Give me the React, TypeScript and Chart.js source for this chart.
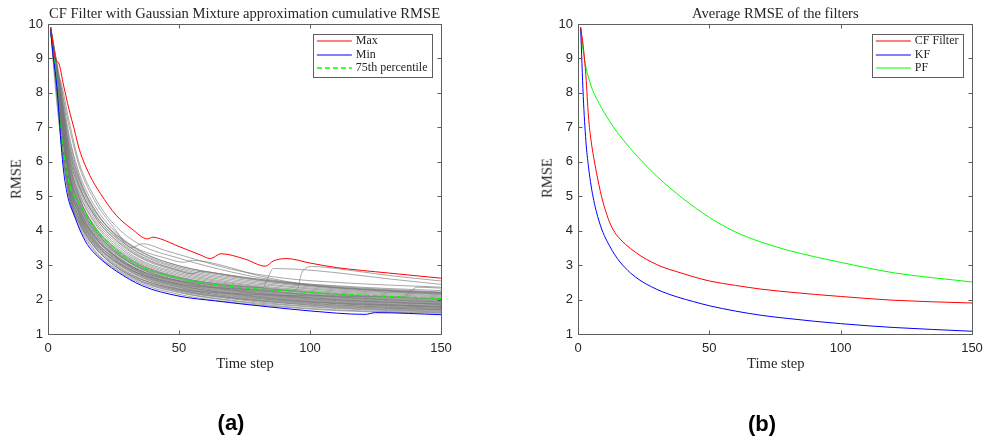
import React, { useEffect, useRef } from "react";
import { Chart, registerables } from "chart.js";
Chart.register(...registerables);

// ---------- Left panel data: CF filter with Gaussian mixture, cumulative RMSE ----------
const timeSamples = [1, 3, 5, 8, 12, 18, 25, 35, 50, 70, 90, 110, 130, 150];

const maxTime = [1, 3, 4, 6, 8, 10, 12, 16, 20, 26, 32, 38, 40, 43, 50, 58, 62, 66, 75, 83, 86, 91, 100, 110, 130, 150];
const maxRmse = [9.9, 8.95, 8.88, 8.2, 7.53, 6.95, 6.35, 5.6, 5.08, 4.45, 4.05, 3.76, 3.81, 3.76, 3.54, 3.3, 3.19, 3.33, 3.18, 2.97, 3.12, 3.19, 3.06, 2.93, 2.77, 2.62];

const minTime = [1, 2, 3, 4, 5, 6, 7, 8, 10, 12, 15, 19, 26, 36, 50, 64, 84, 100, 121, 125, 150];
const minRmse = [9.85, 9.05, 8.45, 7.6, 6.5, 5.7, 5.2, 4.85, 4.45, 4.05, 3.6, 3.25, 2.83, 2.4, 2.1, 1.96, 1.79, 1.67, 1.57, 1.62, 1.56];

const p75Rmse = [9.9, 8.5, 6.85, 5.4, 4.78, 4.05, 3.52, 2.98, 2.62, 2.38, 2.26, 2.17, 2.09, 2.03];

const grayRuns = [
  [9.85, 8.40, 6.65, 5.00, 4.10, 3.38, 2.92, 2.48, 2.15, 1.92, 1.78, 1.68, 1.63, 1.60],
  [9.80, 8.50, 6.80, 5.10, 4.18, 3.42, 2.95, 2.52, 2.20, 1.96, 1.80, 1.70, 1.65, 1.62],
  [9.85, 8.55, 6.90, 5.05, 4.22, 3.50, 3.02, 2.55, 2.22, 1.98, 1.84, 1.74, 1.68, 1.64],
  [9.90, 8.45, 7.00, 5.20, 4.30, 3.55, 3.05, 2.60, 2.25, 2.02, 1.86, 1.76, 1.70, 1.66],
  [9.80, 8.60, 6.95, 5.25, 4.35, 3.58, 3.08, 2.62, 2.28, 2.05, 1.90, 1.78, 1.72, 1.68],
  [9.85, 8.50, 7.10, 5.30, 4.40, 3.62, 3.12, 2.66, 2.30, 2.06, 1.92, 1.82, 1.75, 1.70],
  [9.90, 8.65, 7.05, 5.15, 4.28, 3.60, 3.15, 2.70, 2.35, 2.08, 1.94, 1.84, 1.77, 1.72],
  [9.85, 8.55, 7.20, 5.40, 4.45, 3.70, 3.18, 2.72, 2.36, 2.12, 1.96, 1.85, 1.78, 1.74],
  [9.80, 8.70, 7.15, 5.35, 4.50, 3.72, 3.22, 2.75, 2.38, 2.14, 1.99, 1.88, 1.80, 1.75],
  [9.90, 8.60, 7.25, 5.50, 4.55, 3.75, 3.20, 2.74, 2.40, 2.16, 2.00, 1.90, 1.83, 1.77],
  [9.85, 8.75, 7.30, 5.45, 4.60, 3.80, 3.26, 2.78, 2.42, 2.18, 2.03, 1.92, 1.85, 1.79],
  [9.90, 8.50, 6.90, 5.20, 4.40, 3.68, 3.24, 2.80, 2.45, 2.20, 2.05, 1.94, 1.86, 1.81],
  [9.85, 8.70, 7.35, 5.60, 4.62, 3.82, 3.30, 2.82, 2.46, 2.22, 2.07, 1.96, 1.88, 1.83],
  [9.80, 8.65, 7.40, 5.55, 4.58, 3.85, 3.32, 2.85, 2.48, 2.24, 2.08, 1.97, 1.90, 1.85],
  [9.90, 8.80, 7.45, 5.70, 4.70, 3.90, 3.35, 2.86, 2.50, 2.26, 2.10, 1.99, 1.92, 1.86],
  [9.85, 8.60, 7.10, 5.40, 4.50, 3.78, 3.28, 2.84, 2.52, 2.28, 2.12, 2.01, 1.93, 1.88],
  [9.90, 8.85, 7.50, 5.75, 4.75, 3.95, 3.40, 2.90, 2.54, 2.30, 2.14, 2.03, 1.95, 1.90],
  [9.85, 8.70, 7.55, 5.80, 4.80, 3.98, 3.42, 2.92, 2.55, 2.31, 2.16, 2.05, 1.97, 1.92],
  [9.80, 8.75, 7.40, 5.65, 4.72, 3.92, 3.38, 2.94, 2.58, 2.33, 2.18, 2.07, 1.99, 1.94],
  [9.90, 8.90, 7.60, 5.85, 4.85, 4.02, 3.45, 2.96, 2.60, 2.35, 2.20, 2.09, 2.01, 1.96],
  [9.85, 8.80, 7.65, 5.90, 4.90, 4.08, 3.50, 3.00, 2.63, 2.38, 2.22, 2.11, 2.03, 1.98],
  [9.90, 8.85, 7.70, 6.00, 4.95, 4.12, 3.55, 3.04, 2.66, 2.40, 2.25, 2.13, 2.05, 2.00],
  [9.85, 8.90, 7.75, 6.05, 5.05, 4.20, 3.60, 3.08, 2.70, 2.44, 2.28, 2.16, 2.08, 2.02],
  [9.90, 8.95, 7.80, 6.15, 5.10, 4.25, 3.66, 3.12, 2.74, 2.47, 2.30, 2.19, 2.11, 2.05],
  [9.85, 8.90, 7.85, 6.25, 5.20, 4.32, 3.72, 3.16, 2.78, 2.50, 2.33, 2.22, 2.14, 2.08],
  [9.90, 9.00, 7.95, 6.35, 5.30, 4.40, 3.78, 3.22, 2.82, 2.54, 2.37, 2.25, 2.17, 2.11],
  [9.85, 8.95, 8.00, 6.45, 5.40, 4.48, 3.85, 3.28, 2.86, 2.58, 2.40, 2.28, 2.20, 2.14],
  [9.90, 9.00, 8.10, 6.60, 5.50, 4.58, 3.92, 3.33, 2.90, 2.62, 2.44, 2.31, 2.22, 2.16],
  [9.85, 8.80, 7.70, 6.20, 5.25, 4.45, 3.88, 3.35, 2.94, 2.66, 2.47, 2.34, 2.25, 2.19],
  [9.90, 9.05, 8.20, 6.80, 5.65, 4.70, 4.02, 3.42, 2.98, 2.70, 2.51, 2.38, 2.29, 2.22],
  [9.85, 8.30, 6.60, 5.10, 4.25, 3.52, 3.00, 2.56, 2.26, 2.04, 1.90, 1.80, 1.74, 1.71],
  [9.90, 8.75, 7.20, 5.50, 4.48, 3.66, 3.14, 2.68, 2.32, 2.10, 1.97, 1.88, 1.82, 1.78],
  [9.80, 8.55, 7.05, 5.60, 4.65, 3.86, 3.30, 2.80, 2.42, 2.17, 2.01, 1.90, 1.84, 1.80],
  [9.85, 8.95, 7.90, 6.10, 4.98, 4.05, 3.44, 2.92, 2.53, 2.27, 2.11, 2.00, 1.92, 1.87],
  [9.90, 8.60, 7.30, 5.70, 4.78, 4.00, 3.46, 2.98, 2.62, 2.36, 2.20, 2.08, 1.99, 1.93],
  [9.85, 8.85, 7.60, 5.95, 4.92, 4.10, 3.52, 3.02, 2.64, 2.42, 2.27, 2.15, 2.07, 2.01],
  [9.90, 8.70, 8.30, 7.20, 5.95, 4.95, 4.20, 3.60, 3.20, 2.80, 2.52, 2.40, 2.32, 2.26],
  [9.90, 8.60, 7.90, 6.70, 5.55, 4.60, 3.95, 3.40, 2.98, 2.70, 2.50, 2.36, 2.27, 2.20],
];

// runs with sudden increases
const bumpATime = [1, 3, 5, 8, 12, 18, 25, 32, 34, 36, 45, 58, 70, 90, 110, 130, 150];
const bumpARmse = [9.9, 8.65, 8.15, 7.05, 5.85, 4.85, 4.1, 3.5, 3.57, 3.62, 3.42, 3.13, 2.88, 2.62, 2.5, 2.42, 2.36];
const bumpBTime = [1, 3, 5, 8, 12, 18, 25, 35, 50, 70, 82, 84, 86, 95, 110, 130, 150];
const bumpBRmse = [9.85, 8.3, 6.9, 5.3, 4.5, 3.8, 3.3, 2.85, 2.55, 2.4, 2.35, 2.65, 2.9, 2.88, 2.78, 2.6, 2.44];
const bumpCTime = [1, 3, 5, 8, 12, 18, 25, 35, 50, 70, 90, 95, 97, 101, 110, 130, 150];
const bumpCRmse = [9.85, 8.2, 6.8, 5.2, 4.35, 3.65, 3.15, 2.75, 2.45, 2.32, 2.26, 2.3, 2.8, 2.96, 2.9, 2.7, 2.54];
const bumpDTime = [1, 3, 5, 8, 12, 18, 25, 35, 50, 70, 90, 110, 130, 136, 138, 141, 150];
const bumpDRmse = [9.8, 8.0, 6.6, 5.0, 4.2, 3.5, 3.0, 2.6, 2.3, 2.18, 2.12, 2.1, 2.08, 2.08, 2.22, 2.36, 2.33];
const bumpETime = [1, 3, 5, 8, 12, 18, 25, 35, 50, 55, 58, 62, 70, 90, 110, 130, 150];
const bumpERmse = [9.85, 8.9, 7.9, 6.4, 5.3, 4.4, 3.8, 3.25, 2.84, 2.75, 2.81, 2.79, 2.68, 2.48, 2.34, 2.24, 2.17];
const bumpFTime = [1, 3, 5, 8, 12, 18, 25, 35, 45, 52, 55, 65, 80, 100, 120, 150];
const bumpFRmse = [9.9, 8.65, 7.7, 6.5, 5.45, 4.55, 3.95, 3.45, 3.2, 3.08, 3.14, 3.02, 2.7, 2.42, 2.3, 2.2];

const leftLegend = ["Max", "Min", "75th percentile"];

// ---------- Right panel data: average RMSE of the filters ----------
const avgTime = [1, 2, 3, 4, 5, 6, 7, 8, 9, 10, 12, 14, 16, 18, 20, 24, 28, 32, 38, 44, 50, 60, 70, 80, 90, 100, 120, 150];
const cfAvg = [9.9, 9.35, 8.5, 7.3, 6.6, 6.12, 5.7, 5.32, 4.98, 4.7, 4.25, 3.95, 3.76, 3.61, 3.48, 3.26, 3.09, 2.95, 2.8, 2.66, 2.54, 2.41, 2.3, 2.22, 2.15, 2.09, 1.98, 1.9];
const kfAvg = [9.9, 7.9, 6.6, 5.85, 5.3, 4.88, 4.55, 4.28, 4.05, 3.86, 3.56, 3.3, 3.09, 2.92, 2.77, 2.54, 2.37, 2.23, 2.07, 1.94, 1.82, 1.665, 1.54, 1.45, 1.37, 1.3, 1.19, 1.08];
const pfTime = [1, 2, 3, 4, 5, 6, 8, 10, 12, 15, 20, 25, 30, 35, 40, 45, 50, 55, 60, 65, 70, 80, 90, 100, 120, 150];
const pfAvg = [9.9, 9.2, 8.75, 8.45, 8.2, 8.0, 7.7, 7.43, 7.18, 6.85, 6.38, 5.96, 5.58, 5.24, 4.93, 4.645, 4.385, 4.16, 3.96, 3.8, 3.66, 3.43, 3.245, 3.08, 2.78, 2.51];
const rightLegend = ["CF Filter", "KF", "PF"];

const xTicks = [0, 50, 100, 150];

const RED = "rgb(255,0,0)";
const BLUE = "rgb(0,0,255)";
const GREEN = "rgb(0,255,0)";
const GRAY = "rgb(120,120,120)";

const pts = (ts: number[], vs: number[]) => vs.map((v, i) => ({ x: ts[i], y: v }));

const line = (label: string, data: any[], color: string, extra: any = {}) => ({
  label,
  data,
  borderColor: color,
  backgroundColor: color,
  borderWidth: 1,
  pointRadius: 0,
  fill: false,
  cubicInterpolationMode: "monotone",
  ...extra,
});

const framePlugin = {
  id: "matlabFrame",
  afterDatasetsDraw(chart: any) {
    const { ctx, chartArea: a, scales } = chart;
    const x = scales.x;
    const y = scales.y;
    ctx.save();
    ctx.strokeStyle = "#5e5e5e";
    ctx.lineWidth = 1;
    const L = Math.round(a.left) + 0.5;
    const R = Math.round(a.right) + 0.5;
    const T = Math.round(a.top) + 0.5;
    const B = Math.round(a.bottom) + 0.5;
    ctx.strokeRect(L, T, R - L, B - T);
    const tl = 4;
    ctx.beginPath();
    x.ticks.forEach((t: any) => {
      const px = Math.round(x.getPixelForValue(t.value)) + 0.5;
      ctx.moveTo(px, B);
      ctx.lineTo(px, B - tl);
      ctx.moveTo(px, T);
      ctx.lineTo(px, T + tl);
    });
    y.ticks.forEach((t: any) => {
      const py = Math.round(y.getPixelForValue(t.value)) + 0.5;
      ctx.moveTo(L, py);
      ctx.lineTo(L + tl, py);
      ctx.moveTo(R, py);
      ctx.lineTo(R - tl, py);
    });
    ctx.stroke();
    ctx.restore();
  },
};

const makeLegendPlugin = (labels: string[], colors: string[], dashes: number[][]) => ({
  id: "boxLegend",
  afterDatasetsDraw(chart: any) {
    const { ctx, chartArea: a } = chart;
    ctx.save();
    ctx.font = '12px "Liberation Serif"';
    const textW = Math.max(...labels.map((l) => ctx.measureText(l).width));
    const lineLen = 35;
    const padL = 4;
    const gap = 4;
    const padR = 4;
    const rowH = 13.7;
    const boxW = padL + lineLen + gap + textW + padR;
    const boxH = 7.4 + rowH * (labels.length - 1) + 8;
    const right = a.right - 9.5;
    const top = a.top + 9.5;
    const left = right - boxW;
    ctx.fillStyle = "#ffffff";
    ctx.fillRect(left, top, boxW, boxH);
    ctx.strokeStyle = "#5e5e5e";
    ctx.lineWidth = 1;
    ctx.strokeRect(Math.round(left) + 0.5, Math.round(top) + 0.5, Math.round(boxW), Math.round(boxH));
    labels.forEach((lab, i) => {
      const cy = Math.round(top + 7.4 + rowH * i);
      ctx.strokeStyle = colors[i];
      ctx.lineWidth = dashes[i].length ? 1.3 : 1.1;
      ctx.setLineDash(dashes[i]);
      ctx.beginPath();
      ctx.moveTo(left + padL, cy);
      ctx.lineTo(left + padL + lineLen, cy);
      ctx.stroke();
      ctx.setLineDash([]);
      ctx.fillStyle = "#262626";
      ctx.textBaseline = "middle";
      ctx.textAlign = "left";
      ctx.fillText(lab, left + padL + lineLen + gap, cy);
    });
    ctx.restore();
  },
});

const scaleOptions = () => ({
  x: {
    type: "linear",
    min: 0,
    max: 150,
    afterBuildTicks: (s: any) => {
      s.ticks = xTicks.map((v) => ({ value: v }));
    },
    ticks: { font: { family: "Liberation Sans", size: 13 }, color: "#262626", padding: 7, maxRotation: 0 },
    grid: { display: false, drawTicks: false },
    border: { display: false },
    afterFit: (s: any) => {
      s.height = 26;
    },
  },
  y: {
    type: "linear",
    min: 1,
    max: 10,
    ticks: { stepSize: 1, font: { family: "Liberation Sans", size: 13 }, color: "#262626", padding: 5 },
    grid: { display: false, drawTicks: false },
    border: { display: false },
    afterFit: (s: any) => {
      s.width = 48;
    },
  },
});

function useChart(ref: React.RefObject<HTMLCanvasElement>, build: () => any) {
  useEffect(() => {
    if (!ref.current) return;
    const chart = new Chart(ref.current, build());
    return () => chart.destroy();
  }, []);
}

const serif = '"Liberation Serif", "Times New Roman", serif';

const Label = ({ text, cx, cy, size = 14.6, rotate = false, bold = false, family = serif }: any) => (
  <div
    style={{
      position: "absolute",
      left: cx,
      top: cy,
      transform: `translate(-50%, -50%)${rotate ? " rotate(-90deg)" : ""}`,
      fontFamily: family,
      fontSize: size,
      fontWeight: bold ? "bold" : "normal",
      color: bold ? "#000" : "#262626",
      whiteSpace: "nowrap",
      lineHeight: 1,
    }}
  >
    {text}
  </div>
);

export default function App() {
  const leftRef = useRef<HTMLCanvasElement>(null);
  const rightRef = useRef<HTMLCanvasElement>(null);

  useChart(leftRef, () => {
    const grays = grayRuns.map((r) => line("", pts(timeSamples, r), GRAY, { borderWidth: 0.65 }));
    const bumps = [
      [bumpATime, bumpARmse],
      [bumpBTime, bumpBRmse],
      [bumpCTime, bumpCRmse],
      [bumpDTime, bumpDRmse],
      [bumpETime, bumpERmse],
      [bumpFTime, bumpFRmse],
    ].map(([t, v]) => line("", pts(t, v), GRAY, { borderWidth: 0.65 }));
    return {
      type: "line",
      data: {
        datasets: [
          line(leftLegend[0], pts(maxTime, maxRmse), RED),
          line(leftLegend[1], pts(minTime, minRmse), BLUE),
          line(leftLegend[2], pts(timeSamples, p75Rmse), GREEN, { borderDash: [5, 3], borderWidth: 1.3 }),
          ...grays,
          ...bumps,
        ],
      },
      options: {
        animation: false,
        responsive: false,
        layout: { padding: { left: 0, top: 24, right: 49, bottom: 0 } },
        scales: scaleOptions(),
        plugins: { legend: { display: false }, title: { display: false }, tooltip: { enabled: false } },
      },
      plugins: [framePlugin, makeLegendPlugin(leftLegend, [RED, BLUE, GREEN], [[], [], [5, 3]])],
    };
  });

  useChart(rightRef, () => ({
    type: "line",
    data: {
      datasets: [
        line(rightLegend[0], pts(avgTime, cfAvg), RED),
        line(rightLegend[1], pts(avgTime, kfAvg), BLUE),
        line(rightLegend[2], pts(pfTime, pfAvg), GREEN),
      ],
    },
    options: {
      animation: false,
      responsive: false,
      layout: { padding: { left: 0, top: 24, right: 18, bottom: 0 } },
      scales: scaleOptions(),
      plugins: { legend: { display: false }, title: { display: false }, tooltip: { enabled: false } },
    },
    plugins: [framePlugin, makeLegendPlugin(rightLegend, [RED, BLUE, GREEN], [[], [], []])],
  }));

  return (
    <div style={{ position: "absolute", left: 0, top: 0, width: 985, height: 440, background: "#fff", overflow: "hidden" }}>
      <canvas ref={leftRef} width={490} height={360} style={{ position: "absolute", left: 0, top: 0 }} />
      <canvas ref={rightRef} width={460} height={360} style={{ position: "absolute", left: 530, top: 0 }} />
      <Label text="CF Filter with Gaussian Mixture approximation cumulative RMSE" cx={244.5} cy={13} />
      <Label text="RMSE" cx={16} cy={179} rotate />
      <Label text="Time step" cx={245} cy={362.5} />
      <Label text="(a)" cx={231} cy={423} size={22} bold family='"Liberation Sans", Arial, sans-serif' />
      <Label text="Average RMSE of the filters" cx={775.3} cy={13} />
      <Label text="RMSE" cx={546.7} cy={178} rotate />
      <Label text="Time step" cx={775.8} cy={362.5} />
      <Label text="(b)" cx={762} cy={424} size={22} bold family='"Liberation Sans", Arial, sans-serif' />
    </div>
  );
}
